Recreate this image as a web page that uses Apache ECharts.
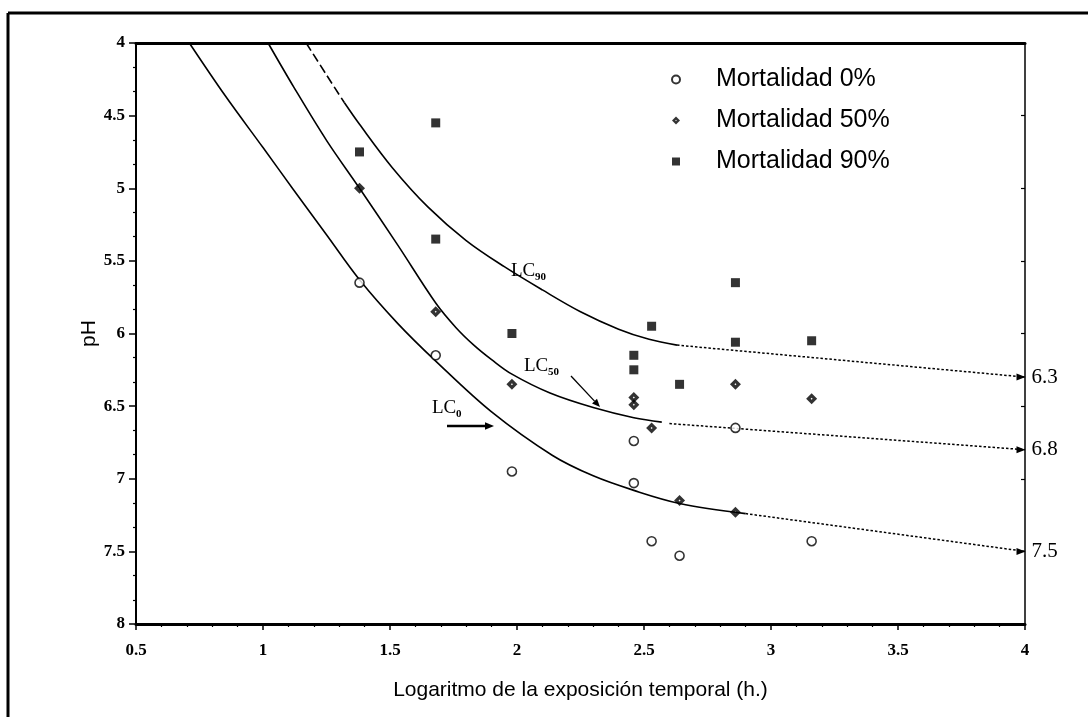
<!DOCTYPE html>
<html>
<head>
<meta charset="utf-8">
<script src="https://cdn.jsdelivr.net/npm/echarts@6/dist/echarts.min.js"></script>
<style>
  html, body { margin: 0; padding: 0; background: #fff; }
  #chart { width: 1088px; height: 717px; }
</style>
</head>
<body>
<div id="chart"></div>
<script>
// Axis tick labels
const xTickLabels = ['0.5', '1', '1.5', '2', '2.5', '3', '3.5', '4'];
const yTickLabels = ['4', '4.5', '5', '5.5', '6', '6.5', '7', '7.5', '8'];

// Observations: [log10 of exposure time (h), pH]
const mortalidad0 = [
  [1.38, 5.65], [1.68, 6.15], [1.98, 6.95], [2.46, 6.74], [2.46, 7.03],
  [2.53, 7.43], [2.64, 7.53], [2.86, 6.65], [3.16, 7.43]
];
const mortalidad50 = [
  [1.38, 5.0], [1.68, 5.85], [1.98, 6.35], [2.46, 6.44], [2.46, 6.49],
  [2.53, 6.65], [2.64, 7.15], [2.86, 6.35], [2.86, 7.23], [3.16, 6.45]
];
const mortalidad90 = [
  [1.38, 4.75], [1.68, 4.55], [1.68, 5.35], [1.98, 6.0], [2.46, 6.15],
  [2.46, 6.25], [2.53, 5.95], [2.64, 6.35], [2.86, 5.65], [2.86, 6.06],
  [3.16, 6.05]
];

// Fitted lethal-concentration curves
const curvaLC0 = [
  [0.71, 4.0], [0.85, 4.36], [1.0, 4.72], [1.12, 5.01], [1.25, 5.32],
  [1.38, 5.63], [1.53, 5.93], [1.68, 6.19], [1.9, 6.54], [2.14, 6.84],
  [2.3, 6.98], [2.46, 7.08], [2.64, 7.17], [2.9, 7.24]
];
const curvaLC50 = [
  [1.02, 4.0], [1.12, 4.3], [1.25, 4.67], [1.38, 5.0], [1.53, 5.39],
  [1.68, 5.79], [1.76, 5.96], [1.83, 6.08], [1.9, 6.18], [1.98, 6.28],
  [2.13, 6.41], [2.3, 6.51], [2.46, 6.58], [2.57, 6.61]
];
const curvaLC90Inicio = [[1.17, 4.0], [1.25, 4.22], [1.32, 4.41]];
const curvaLC90 = [
  [1.32, 4.41], [1.38, 4.56], [1.51, 4.86], [1.65, 5.13], [1.8, 5.36],
  [1.95, 5.54], [2.1, 5.7], [2.25, 5.85], [2.4, 5.97], [2.52, 6.04],
  [2.63, 6.08]
];

// Extrapolated thresholds, ending on the right-hand axis
const umbralLC90 = [[2.63, 6.08], [4.0, 6.3]];
const umbralLC50 = [[2.6, 6.62], [4.0, 6.8]];
const umbralLC0 = [[2.9, 7.24], [4.0, 7.5]];

const chart = echarts.init(document.getElementById('chart'), null, { renderer: 'canvas' });

const tickFont = { fontFamily: 'Liberation Serif', fontWeight: 'bold', fontSize: 17, color: '#000' };

// Diamond with a small hole in the middle (50% mortality marker)
const halfDiamond = 'path://M0,-10 L10,0 L0,10 L-10,0 Z M0,-1.8 L-1.8,0 L0,1.8 L1.8,0 Z';

function curve(data, dashed) {
  return {
    type: 'line', data: data, smooth: 0.35,
    symbol: 'none', silent: true, z: 2,
    lineStyle: { color: '#000', width: 1.6, type: dashed ? [9, 4] : 'solid' }
  };
}

function threshold(data) {
  const last = data.length - 1;
  return {
    type: 'line', clip: false, silent: true, z: 2,
    data: data.map((d, i) => i === last
      ? { value: d, symbol: 'triangle', symbolSize: [7, 9], symbolRotate: -90, symbolOffset: [-4, 0],
          label: { show: true } }
      : { value: d, symbol: 'none' }),
    itemStyle: { color: '#000' },
    lineStyle: { color: '#000', width: 1.5, type: [2.5, 2] },
    label: {
      position: 'right', distance: 6,
      formatter: p => String(p.value[1]),
      fontFamily: 'Liberation Serif', fontSize: 21, color: '#000'
    }
  };
}

function arrow(x1, y1, x2, y2, w, head) {
  const dx = x2 - x1, dy = y2 - y1, L = Math.hypot(dx, dy);
  const ux = dx / L, uy = dy / L;
  const bx = x2 - ux * head, by = y2 - uy * head;
  const hw = head * 0.42;
  return [
    { type: 'line', shape: { x1: x1, y1: y1, x2: bx, y2: by }, style: { stroke: '#000', lineWidth: w } },
    { type: 'polygon', shape: { points: [[x2, y2], [bx - uy * hw, by + ux * hw], [bx + uy * hw, by - ux * hw]] },
      style: { fill: '#000' } }
  ];
}

// "LC" with a subscript
function lcLabel(x, y, sub) {
  return [
    { type: 'text', x: x, y: y,
      style: { text: 'LC', fontFamily: 'Liberation Serif', fontSize: 19, fill: '#000', verticalAlign: 'middle' } },
    { type: 'text', x: x + 24, y: y + 6,
      style: { text: sub, fontFamily: 'Liberation Serif', fontWeight: 'bold', fontSize: 11, fill: '#000', verticalAlign: 'middle' } }
  ];
}

const option = {
  backgroundColor: '#fff',
  animation: false,
  grid: { left: 136, right: 63, top: 43, bottom: 93 },
  legend: {
    orient: 'vertical', left: 666, top: 62,
    itemWidth: 8, itemHeight: 8, itemGap: 16,
    data: ['Mortalidad 0%', 'Mortalidad 50%', 'Mortalidad 90%'],
    textStyle: { fontFamily: 'Liberation Sans', fontSize: 25, color: '#000', padding: [0, 0, 0, 31] }
  },
  xAxis: [
    {
      type: 'value', position: 'bottom', min: 0.5, max: 4, interval: 0.5,
      name: 'Logaritmo de la exposición temporal (h.)', nameLocation: 'middle', nameGap: 56,
      nameMoveOverlap: false,
      nameTextStyle: { fontFamily: 'Liberation Sans', fontSize: 21, color: '#000' },
      axisLine: { show: true, onZero: false, lineStyle: { color: '#000', width: 3 } },
      axisTick: { show: true, length: 6, lineStyle: { color: '#000', width: 1.5 } },
      minorTick: { show: true, splitNumber: 5, length: 3, lineStyle: { color: '#000', width: 1.2 } },
      axisLabel: Object.assign({ margin: 18, formatter: v => xTickLabels[Math.round((v - 0.5) / 0.5)] }, tickFont),
      splitLine: { show: false }
    },
    {
      type: 'value', position: 'top', min: 0.5, max: 4, interval: 0.5,
      axisLine: { show: true, onZero: false, lineStyle: { color: '#000', width: 3 } },
      axisTick: { show: false }, axisLabel: { show: false }, splitLine: { show: false }
    }
  ],
  yAxis: [
    {
      type: 'value', position: 'left', inverse: true, min: 4, max: 8, interval: 0.5,
      name: 'pH', nameLocation: 'middle', nameGap: 36, nameMoveOverlap: false,
      nameTextStyle: { fontFamily: 'Liberation Sans', fontSize: 21, color: '#000' },
      axisLine: { show: true, onZero: false, lineStyle: { color: '#000', width: 2 } },
      axisTick: { show: true, length: 7, lineStyle: { color: '#000', width: 1.5 } },
      minorTick: { show: true, splitNumber: 3, length: 3, lineStyle: { color: '#000', width: 1.2 } },
      axisLabel: Object.assign({ margin: 11, formatter: v => yTickLabels[Math.round((v - 4) / 0.5)] }, tickFont),
      splitLine: { show: false }
    },
    {
      type: 'value', position: 'right', inverse: true, min: 4, max: 8, interval: 0.5,
      axisLine: { show: true, onZero: false, lineStyle: { color: '#000', width: 1.5 } },
      axisTick: { show: true, inside: true, length: 4, lineStyle: { color: '#000', width: 1.2 } },
      axisLabel: { show: false }, splitLine: { show: false }
    }
  ],
  series: [
    curve(curvaLC0, false),
    curve(curvaLC50, false),
    curve(curvaLC90Inicio, true),
    curve(curvaLC90, false),
    threshold(umbralLC90),
    threshold(umbralLC50),
    threshold(umbralLC0),
    {
      name: 'Mortalidad 0%', type: 'scatter', data: mortalidad0, z: 4,
      symbol: 'circle', symbolSize: 9,
      itemStyle: { color: '#fff', borderColor: '#000', borderWidth: 1.6 }
    },
    {
      name: 'Mortalidad 50%', type: 'scatter', data: mortalidad50, z: 4,
      symbol: halfDiamond, symbolSize: 11,
      itemStyle: { color: '#000' }
    },
    {
      name: 'Mortalidad 90%', type: 'scatter', data: mortalidad90, z: 4,
      symbol: 'rect', symbolSize: 9,
      itemStyle: { color: '#000' }
    }
  ],
  graphic: [
    // page frame
    { type: 'line', shape: { x1: 8, y1: 13, x2: 1088, y2: 13 }, style: { stroke: '#000', lineWidth: 3 } },
    { type: 'line', shape: { x1: 8, y1: 13, x2: 8, y2: 717 }, style: { stroke: '#000', lineWidth: 3 } },
    // curve annotations
    ...lcLabel(511, 271, '90'),
    ...lcLabel(524, 366, '50'),
    ...lcLabel(432, 408, '0'),
    ...arrow(571, 376, 600, 407, 1.3, 8),
    ...arrow(447, 426, 494, 426, 2.5, 9)
  ]
};

chart.setOption(option);
</script>
</body>
</html>
